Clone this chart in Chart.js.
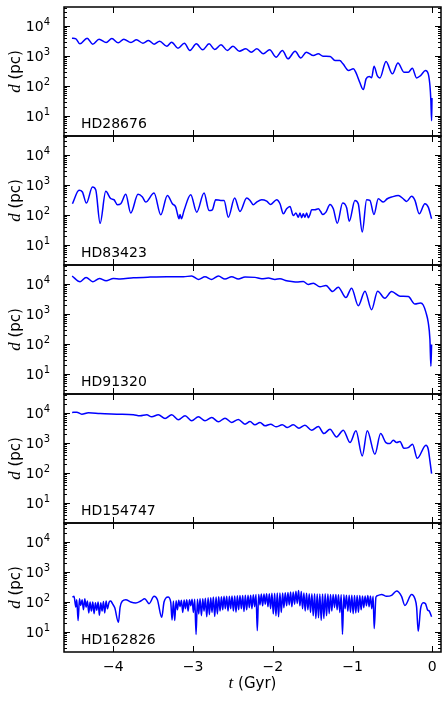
<!DOCTYPE html>
<html>
<head>
<meta charset="utf-8">
<script src="https://cdn.jsdelivr.net/npm/chart.js@4/dist/chart.umd.min.js"></script>
<style>
  html, body { margin: 0; padding: 0; background: #fff; }
  #wrap { position: relative; width: 447px; height: 702px; }
  #wrap canvas { position: absolute; left: 0; }
</style>
</head>
<body>
<div id="wrap"></div>
<script>
// star names, one panel each (top to bottom)
const starNames = ['HD28676', 'HD83423', 'HD91320', 'HD154747', 'HD162826'];

// axis ticks
const xTicks = [-4, -3, -2, -1, 0];
const xTickLabels = ['\u22124', '\u22123', '\u22122', '\u22121', '0'];
const yTickExponents = [1, 2, 3, 4];

// HD28676: time (Gyr) and distance (pc)
const t28676 = [-4.52, -4.47, -4.42, -4.33, -4.26, -4.18, -4.09, -4.02, -3.94, -3.87,
  -3.78, -3.71, -3.63, -3.56, -3.49, -3.42, -3.33, -3.27, -3.19, -3.11,
  -3.04, -2.96, -2.88, -2.80, -2.73, -2.65, -2.57, -2.50, -2.42, -2.34,
  -2.27, -2.20, -2.12, -2.04, -1.96, -1.88, -1.81, -1.72, -1.65, -1.58,
  -1.49, -1.43, -1.37, -1.28, -1.22, -1.16, -1.12, -1.05, -0.99, -0.96,
  -0.91, -0.865, -0.83, -0.79, -0.76, -0.73, -0.69, -0.656, -0.58, -0.50,
  -0.43, -0.355, -0.30, -0.25, -0.196, -0.146, -0.084, -0.05, -0.029, -0.017,
  -0.008, -0.003];
const d28676 = [3970, 3770, 2560, 3970, 2500, 3670, 2840, 3870, 2770, 3670,
  2840, 3490, 2700, 3320, 2500, 3150, 2140, 2920, 1840, 2700,
  1540, 2560, 1620, 2560, 1660, 2380, 1540, 2140, 1460, 1750,
  1350, 1750, 1190, 1620, 920, 1540, 810, 1460, 870, 1350,
  1040, 1190, 990, 970, 710, 710, 550, 330, 375, 290,
  134, 76, 173, 207, 190, 460, 224, 187, 660, 255,
  590, 290, 290, 390, 187, 224, 330, 255, 104, 33,
  7, 40];

// HD83423
const t83423 = [-4.514, -4.431, -4.389, -4.339, -4.263, -4.222, -4.167, -4.096, -4.033, -3.992,
  -3.950, -3.908, -3.845, -3.783, -3.691, -3.636, -3.595, -3.490, -3.406, -3.323,
  -3.260, -3.218, -3.197, -3.177, -3.164, -3.147, -3.114, -3.030, -2.955, -2.863,
  -2.800, -2.759, -2.717, -2.654, -2.612, -2.558, -2.479, -2.412, -2.328, -2.286,
  -2.245, -2.203, -2.140, -2.077, -2.027, -1.952, -1.910, -1.868, -1.827, -1.785,
  -1.743, -1.710, -1.680, -1.659, -1.638, -1.618, -1.597, -1.576, -1.555, -1.534,
  -1.513, -1.471, -1.429, -1.400, -1.375, -1.333, -1.283, -1.241, -1.191, -1.124,
  -1.074, -1.041, -0.970, -0.928, -0.878, -0.823, -0.782, -0.731, -0.677, -0.614,
  -0.564, -0.510, -0.426, -0.364, -0.322, -0.259, -0.217, -0.163, -0.092, -0.050,
  -0.008];
const d83423 = [238, 667, 586, 250, 863, 703, 53, 618, 350, 324,
  220, 238, 490, 116, 490, 398, 270, 543, 102, 453,
  238, 184, 110, 75, 104, 75, 142, 477, 125, 543,
  142, 150, 324, 308, 308, 85, 369, 131, 369, 308,
  220, 270, 324, 292, 226, 324, 238, 110, 162, 194,
  96, 116, 85, 116, 82, 110, 85, 116, 82, 104,
  150, 150, 162, 131, 104, 125, 226, 162, 53, 250,
  175, 62, 308, 238, 27, 324, 308, 104, 350, 270,
  350, 398, 453, 350, 285, 420, 308, 110, 238, 184,
  75];

// HD91320
const t91320 = [-4.518, -4.418, -4.343, -4.259, -4.176, -4.092, -4.000, -3.916, -3.749, -3.540,
  -3.331, -3.122, -3.018, -2.934, -2.851, -2.767, -2.683, -2.600, -2.516, -2.433,
  -2.349, -2.224, -2.140, -2.056, -1.973, -1.910, -1.827, -1.764, -1.701, -1.618,
  -1.555, -1.492, -1.409, -1.333, -1.250, -1.179, -1.083, -1.012, -0.928, -0.844,
  -0.761, -0.685, -0.594, -0.510, -0.405, -0.301, -0.217, -0.146, -0.113, -0.079,
  -0.050, -0.029, -0.017, -0.008];
const d91320 = [18600, 12000, 16800, 12000, 15500, 12900, 15500, 14800, 16300, 17200,
  17700, 17700, 18600, 14400, 17700, 14400, 18600, 14800, 17700, 14800,
  17200, 16800, 15100, 15900, 14400, 15100, 12900, 12300, 11700, 12300,
  9750, 10800, 8130, 9020, 5660, 7930, 3550, 7330, 1910, 5810,
  1400, 5810, 3380, 5660, 3940, 3840, 2170, 2350, 2010, 1140,
  524, 144, 18, 97];

// HD154747
const t154747 = [-4.518, -4.460, -4.397, -4.313, -4.167, -3.958, -3.749, -3.666, -3.582, -3.519,
  -3.436, -3.352, -3.269, -3.185, -3.101, -3.018, -2.934, -2.851, -2.767, -2.683,
  -2.600, -2.516, -2.433, -2.349, -2.286, -2.224, -2.161, -2.098, -2.027, -1.960,
  -1.881, -1.818, -1.743, -1.672, -1.597, -1.513, -1.429, -1.358, -1.283, -1.200,
  -1.116, -1.032, -0.957, -0.878, -0.815, -0.719, -0.648, -0.581, -0.531, -0.489,
  -0.447, -0.405, -0.355, -0.301, -0.247, -0.188, -0.079, -0.050, -0.029, -0.008];
const d154747 = [10500, 10800, 9260, 10300, 9750, 9260, 8790, 8140, 8790, 7540,
  8790, 6630, 8790, 5980, 8140, 5540, 7540, 5540, 7160, 5130,
  6810, 4870, 6130, 4290, 5260, 4070, 4880, 3770, 4290, 3490,
  4070, 3310, 4070, 3150, 3960, 2700, 3580, 2080, 2910, 1610,
  2700, 1040, 2560, 372, 2560, 424, 2080, 1040, 960, 1250,
  1040, 1130, 673, 709, 916, 311, 848, 623, 254, 95];

// HD162826
const t162826 = [
  -4.514, -4.494, -4.472, -4.460, -4.443, -4.426, -4.410, -4.393, -4.376, -4.359,
  -4.343, -4.326, -4.309, -4.293, -4.276, -4.259, -4.242, -4.226, -4.209, -4.192,
  -4.176, -4.159, -4.142, -4.125, -4.109, -4.092, -4.075, -4.054, -4.033, -4.012,
  -3.983, -3.937, -3.916, -3.887, -3.845, -3.783, -3.720, -3.657, -3.607, -3.553,
  -3.490, -3.448, -3.394, -3.365, -3.315, -3.281,
  -3.264, -3.247, -3.231, -3.214, -3.197, -3.180, -3.164, -3.147, -3.130, -3.113,
  -3.097, -3.080, -3.063, -3.046, -3.030, -3.013, -2.997, -2.980, -2.963, -2.946,
  -2.930, -2.913, -2.896, -2.879, -2.863, -2.846, -2.829, -2.812, -2.796, -2.779,
  -2.763, -2.746, -2.729, -2.712, -2.696, -2.679, -2.662, -2.645, -2.629, -2.612,
  -2.596, -2.579, -2.562, -2.545, -2.529, -2.512, -2.495, -2.478, -2.462, -2.445,
  -2.429, -2.412, -2.395, -2.378, -2.362, -2.345, -2.328, -2.311, -2.295, -2.278,
  -2.262, -2.245, -2.228, -2.211, -2.195, -2.178, -2.161, -2.144, -2.128, -2.111,
  -2.095, -2.078, -2.061, -2.044, -2.028, -2.011, -1.994, -1.977, -1.961, -1.944,
  -1.928, -1.911, -1.894, -1.877, -1.861, -1.844, -1.827, -1.810, -1.794, -1.777,
  -1.761, -1.744, -1.727, -1.710, -1.694, -1.677, -1.660, -1.643, -1.627, -1.610,
  -1.594, -1.577, -1.560, -1.543, -1.527, -1.510, -1.493, -1.476, -1.460, -1.443,
  -1.427, -1.410, -1.393, -1.376, -1.360, -1.343, -1.326, -1.309, -1.293, -1.276,
  -1.260, -1.243, -1.226, -1.209, -1.193, -1.176, -1.159, -1.142, -1.126, -1.109,
  -1.093, -1.076, -1.059, -1.042, -1.026, -1.009, -0.992, -0.975, -0.959, -0.942,
  -0.926, -0.909, -0.892, -0.875, -0.859, -0.842, -0.825, -0.808, -0.792, -0.775,
  -0.759, -0.742, -0.728,
  -0.706, -0.677, -0.635, -0.573, -0.510, -0.447, -0.385, -0.343, -0.259, -0.217,
  -0.196, -0.176, -0.146, -0.113, -0.084, -0.059, -0.038, -0.021, -0.008];
const d162826 = [
  147, 155, 68, 120, 24, 129, 77, 120, 55, 129,
  68, 108, 43, 100, 50, 100, 41, 95, 53, 100,
  36, 95, 50, 105, 43, 108, 60, 100, 108, 88,
  64, 21, 68, 108, 120, 100, 93, 108, 129, 88,
  155, 120, 31, 100, 147, 100,
  25, 108, 24, 110, 55, 114, 70, 114, 45, 118,
  60, 120, 50, 120, 75, 125, 45, 125, 8.3, 125,
  40, 129, 35, 129, 50, 135, 32, 140, 38, 140,
  45, 147, 33, 147, 40, 150, 50, 150, 55, 155,
  60, 155, 50, 155, 60, 160, 50, 160, 46, 162,
  55, 165, 60, 165, 48, 167, 55, 170, 65, 170,
  60, 175, 70, 180, 11, 180, 80, 185, 75, 185,
  85, 190, 70, 190, 60, 195, 40, 195, 35, 200,
  32, 200, 45, 200, 65, 205, 75, 210, 80, 215,
  70, 215, 85, 230, 90, 245, 75, 225, 60, 200,
  50, 195, 55, 190, 45, 190, 35, 190, 28, 185,
  30, 185, 24, 185, 28, 190, 35, 185, 41, 180,
  50, 180, 65, 180, 55, 175, 45, 175, 8.4, 175,
  60, 170, 50, 170, 46, 170, 41, 165, 43, 165,
  46, 165, 55, 160, 65, 160, 75, 165, 70, 160,
  60, 155, 13,
  147, 167, 180, 155, 167, 233, 155, 77, 180, 129,
  68, 10.5, 60, 95, 88, 55, 50, 40, 32];

const seriesT = [t28676, t83423, t91320, t154747, t162826];
const seriesD = [d28676, d83423, d91320, d154747, d162826];

const FONT = '"DejaVu Sans", "Liberation Sans", sans-serif';
const MATH = '"Liberation Serif", "DejaVu Serif", serif';

// draws the box, inward ticks on all four sides, tick labels and titles
const panelDecor = {
  id: 'panelDecor',
  afterDraw(chart, args, opts) {
    const ctx = chart.ctx;
    const a = chart.chartArea;
    const xs = chart.scales.x;
    const ys = chart.scales.y;
    ctx.save();
    ctx.strokeStyle = '#000';
    ctx.fillStyle = '#000';

    // ticks
    ctx.lineWidth = 1;
    ctx.beginPath();
    xTicks.forEach(v => {
      const px = Math.round(xs.getPixelForValue(v)) + 0.5;
      ctx.moveTo(px, a.top); ctx.lineTo(px, a.top + 6);
      ctx.moveTo(px, a.bottom); ctx.lineTo(px, a.bottom - 6);
    });
    for (let e = 0; e <= 4; e++) {
      for (let m = 1; m <= 9; m++) {
        const v = m * Math.pow(10, e);
        if (v < ys.min || v > ys.max) continue;
        const py = Math.round(ys.getPixelForValue(v)) + 0.5;
        const len = m === 1 ? 6 : 3;
        ctx.moveTo(a.left, py); ctx.lineTo(a.left + len, py);
        ctx.moveTo(a.right, py); ctx.lineTo(a.right - len, py);
      }
    }
    ctx.stroke();

    // frame
    ctx.lineWidth = 1.5;
    ctx.strokeRect(a.left, a.top, a.right - a.left, a.bottom - a.top);

    // y tick labels 10^n
    ctx.textBaseline = 'alphabetic';
    ctx.textAlign = 'left';
    yTickExponents.forEach(e => {
      const py = ys.getPixelForValue(Math.pow(10, e));
      ctx.font = '10px ' + FONT;
      const wSup = ctx.measureText(String(e)).width;
      ctx.font = '14px ' + FONT;
      const wBase = ctx.measureText('10').width;
      const right = a.left - 14;
      ctx.fillText('10', right - wSup - wBase, py + 5);
      ctx.font = '10px ' + FONT;
      ctx.fillText(String(e), right - wSup, py - 1);
    });

    // y title: d (pc)
    ctx.save();
    ctx.translate(16, (a.top + a.bottom) / 2);
    ctx.rotate(-Math.PI / 2);
    ctx.textBaseline = 'middle';
    ctx.font = 'italic 17px ' + MATH;
    const wd = ctx.measureText('d').width;
    ctx.font = '15px ' + FONT;
    const wpc = ctx.measureText(' (pc)').width;
    const x0 = -(wd + wpc) / 2;
    ctx.font = 'italic 17px ' + MATH;
    ctx.fillText('d', x0, 0);
    ctx.font = '15px ' + FONT;
    ctx.fillText(' (pc)', x0 + wd, 0);
    ctx.restore();

    // star name
    ctx.font = '14px ' + FONT;
    ctx.textAlign = 'left';
    ctx.fillText(opts.name, a.left + 17, a.bottom - 8);

    // bottom axis labels on the last panel
    if (opts.last) {
      ctx.font = '14px ' + FONT;
      ctx.textAlign = 'center';
      ctx.textBaseline = 'top';
      xTicks.forEach((v, i) => {
        ctx.fillText(xTickLabels[i], xs.getPixelForValue(v), a.bottom + 8);
      });
      ctx.textAlign = 'left';
      ctx.textBaseline = 'middle';
      ctx.font = 'italic 17px ' + MATH;
      const wt = ctx.measureText('t').width;
      ctx.font = '15px ' + FONT;
      const wg = ctx.measureText(' (Gyr)').width;
      const cx = (a.left + a.right) / 2 - (wt + wg) / 2;
      const cy = a.bottom + 32;
      ctx.font = 'italic 17px ' + MATH;
      ctx.fillText('t', cx, cy);
      ctx.font = '15px ' + FONT;
      ctx.fillText(' (Gyr)', cx + wt, cy);
    }
    ctx.restore();
  }
};

const wrap = document.getElementById('wrap');
const panelH = 129;

starNames.forEach((name, i) => {
  const last = i === starNames.length - 1;
  const canvas = document.createElement('canvas');
  const h = panelH + 4 + (last ? 54 : 4);
  canvas.width = 447;
  canvas.height = h;
  canvas.style.width = '447px';
  canvas.style.height = h + 'px';
  canvas.style.top = (3 + panelH * i) + 'px';
  wrap.appendChild(canvas);

  const points = seriesT[i].map((t, j) => ({ x: t, y: seriesD[i][j] }));

  new Chart(canvas, {
    type: 'line',
    data: {
      datasets: [{
        data: points,
        borderColor: '#0000ff',
        borderWidth: 1.5,
        pointRadius: 0,
        fill: false,
        cubicInterpolationMode: 'monotone'
      }]
    },
    options: {
      responsive: false,
      animation: false,
      devicePixelRatio: 1,
      layout: {
        autoPadding: false,
        padding: { left: 64, right: 6, top: 4, bottom: last ? 54 : 4 }
      },
      plugins: {
        legend: { display: false },
        tooltip: { enabled: false },
        panelDecor: { name: name, last: last }
      },
      scales: {
        x: { type: 'linear', min: -4.62, max: 0.11, display: false },
        y: { type: 'logarithmic', min: 2.15, max: 43500, display: false }
      }
    },
    plugins: [panelDecor]
  });
});
</script>
</body>
</html>
